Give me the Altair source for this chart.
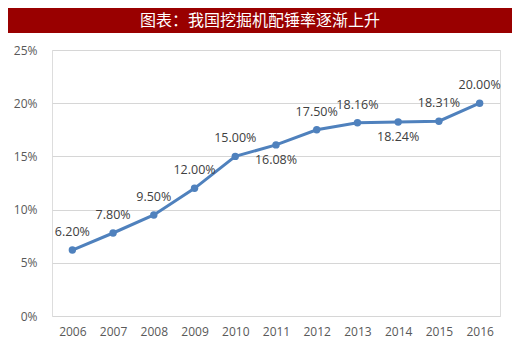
import altair as alt
import pandas as pd

years = ["2006", "2007", "2008", "2009", "2010", "2011", "2012", "2013", "2014", "2015", "2016"]
rates = [0.0620, 0.0780, 0.0950, 0.1200, 0.1500, 0.1608, 0.1750, 0.1816, 0.1824, 0.1831, 0.2000]
label_pos = ["above", "above", "above", "above", "above", "below", "above", "above", "below", "above", "above"]
title_text = "图表：我国挖掘机配锤率逐渐上升"

df = pd.DataFrame({"year": years, "rate": rates, "pos": label_pos})

FONT = "Open Sans"
BLUE = "#4F81BD"

x = alt.X("year:O", title=None,
          axis=alt.Axis(labelAngle=0, labelColor="#595959", labelFont=FONT, labelFontSize=12,
                        labelPadding=10, ticks=False, domain=False, grid=False))
y = alt.Y("rate:Q", title=None,
          scale=alt.Scale(domain=[0, 0.25], nice=False),
          axis=alt.Axis(values=[0, 0.05, 0.10, 0.15, 0.20, 0.25], format=".0%",
                        labelColor="#595959", labelFont=FONT, labelFontSize=12,
                        labelPadding=15, ticks=False, domain=False,
                        grid=True, gridColor="#d6d6d6", gridWidth=1))

base = alt.Chart(df)

line = base.mark_line(color=BLUE, strokeWidth=3).encode(x=x, y=y)
pts = base.mark_point(color=BLUE, filled=True, size=55, opacity=1).encode(x=x, y=y)

lab_above = base.transform_filter(alt.datum.pos == "above").mark_text(
    dy=-18, font=FONT, fontSize=12.5, color="#404040"
).encode(x=x, y=y, text=alt.Text("rate:Q", format=".2%"))

lab_below = base.transform_filter(alt.datum.pos == "below").mark_text(
    dy=15, font=FONT, fontSize=12.5, color="#404040"
).encode(x=x, y=y, text=alt.Text("rate:Q", format=".2%"))

banner = alt.Chart(pd.DataFrame({"t": [title_text]})).mark_rect(color="#990000").encode(
    x=alt.value(-44), x2=alt.value(460), y=alt.value(-42), y2=alt.value(-17)
)
banner_text = alt.Chart(pd.DataFrame({"t": [title_text]})).mark_text(
    color="white", font="Noto Sans CJK SC", fontSize=16, align="center", baseline="middle"
).encode(x=alt.value(208), y=alt.value(-29), text="t:N")

chart = alt.layer(banner, banner_text, line, pts, lab_above, lab_below).properties(
    width=448, height=266,
    autosize=alt.AutoSizeParams(type="none"),
    padding={"left": 44, "top": 42, "right": 12, "bottom": 34},
).configure_view(stroke=None).configure(background="white")

chart.save("out.html", embed_options={"renderer": "svg", "actions": False})
